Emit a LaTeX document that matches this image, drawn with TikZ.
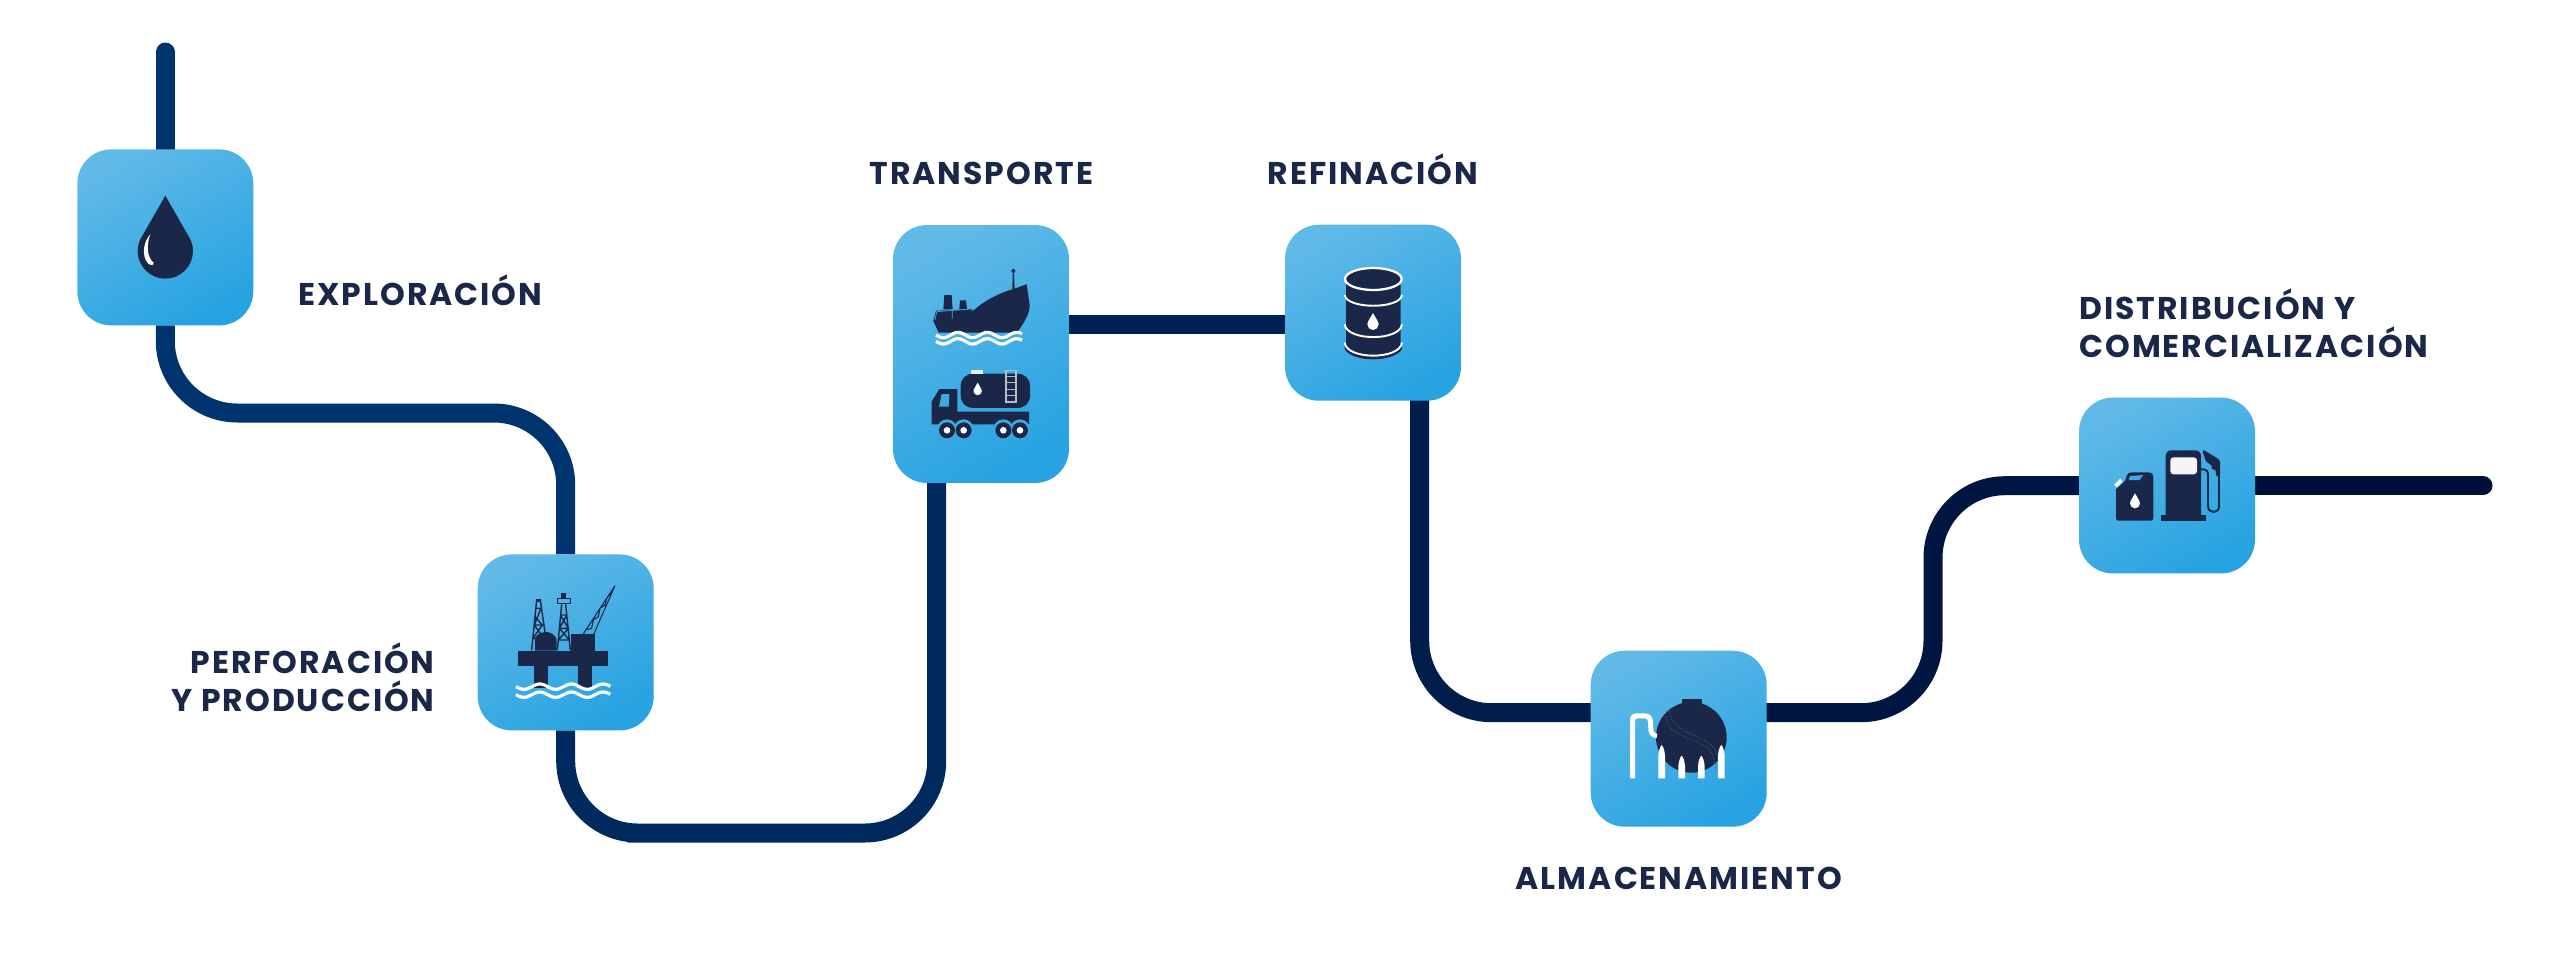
\documentclass[tikz,border=0pt]{standalone}
\usepackage{fontspec}
\setmainfont{Poppins}[LetterSpace=6.3]
\usetikzlibrary{backgrounds}
\definecolor{navy}{HTML}{1B2748}
\definecolor{boxlight}{HTML}{60B9E7}
\definecolor{boxdark}{HTML}{27A3E1}
\definecolor{boxmid}{HTML}{3FAAE2}
\definecolor{pipeA}{HTML}{00346E}
\definecolor{pipeB}{HTML}{002A5E}
\definecolor{pipeC}{HTML}{002253}
\definecolor{pipeD}{HTML}{001D4C}
\definecolor{pipeE}{HTML}{001642}
\definecolor{pipeF}{HTML}{000F38}
\tikzset{
  stage/.style={rectangle,inner sep=0pt,outer sep=0pt,minimum width=3.52cm,minimum height=3.52cm,
    rounded corners=0.68cm,top color=boxlight,bottom color=boxdark,shading angle=30},
  pipeline/.style={line width=0.38cm,rounded corners=1.44cm},
  lbl/.style={inner sep=0pt,font=\fontsize{17.9}{21.6}\selectfont\bfseries,text=navy},
  zoomframe/.style={x=0.0066667cm,y=-0.0066667cm},
  waveline/.style={draw=white,line width=1.8pt,line cap=butt},
  drop/.pic={
    \fill (0,-2) -- (-.86,-.5) .. controls (-.95,-.35) and (-1,-.18) .. (-1,0)
      .. controls (-1,.55) and (-.55,1) .. (0,1) .. controls (.55,1) and (1,.55) .. (1,0)
      .. controls (1,-.18) and (.95,-.35) .. (.86,-.5) -- cycle;
  }
}
\newcommand{\wavepair}[5]{%
  \draw[waveline] plot[domain=#1:#2,samples=70] (\x,{#3+8*sin(360/#5*(\x-#1))});
  \draw[waveline] plot[domain=#1:#2,samples=70] (\x,{#4+8*sin(360/#5*(\x-#1))});
}
\begin{document}
\begin{tikzpicture}[x=0.02cm,y=-0.02cm]
\useasboundingbox (0,0) rectangle (2560,961);
% stages
\node[stage] (b1) at (165.3,237.4) {};
\node[stage] (b2) at (565.7,642.4) {};
\node[stage,minimum height=5.16cm] (b3) at (981,354) {};
\node[stage] (b4) at (1373,312.7) {};
\node[stage] (b5) at (1678.7,738.7) {};
\node[stage] (b6) at (2167,485.5) {};
% connector ends and bends
\coordinate (top) at (165.3,52);
\coordinate (bend1) at (400,413);
\coordinate (bend2) at (700,833);
\coordinate (b3s) at (936.7,482);
\coordinate (b3e) at (1069,324.7);
\coordinate (b4w) at (1285,324.7);
\coordinate (b4s) at (1419.7,400);
\coordinate (b5w) at (1591,712.7);
\coordinate (b5e) at (1766,712.7);
\coordinate (c1) at (1933,712.7);
\coordinate (c2) at (1933,485.7);
\coordinate (b6w) at (2080,485.7);
\coordinate (b6e) at (2254,485.7);
\coordinate (tail) at (2483,485.7);
\begin{scope}[on background layer]
  \fill[white] (0,0) rectangle (2560,961);
  \draw[pipeline,pipeA,line cap=round] (top) -- (b1.north);
  \draw[pipeline,pipeA] (b1.south) |- (bend1) -| (b2.north);
  \draw[pipeline,pipeB] (b2.south) |- (bend2) -| (b3s);
  \draw[pipeline,pipeC] (b3e) -- (b4w);
  \draw[pipeline,pipeD] (b4s) |- (b5w);
  \draw[pipeline,pipeE] (b5e) -- (c1) -- (c2) -- (b6w);
  \draw[pipeline,pipeF,line cap=round] (b6e) -- (tail);
\end{scope}
% labels
\node[lbl,anchor=base west] (l1) at (298,305) {EXPLORACIÓN};
\node[lbl,anchor=base east,align=right] (l2) at (435,711) {PERFORACIÓN\\Y PRODUCCIÓN};
\node[lbl,anchor=base] (l3) at (981.5,184.3) {TRANSPORTE};
\node[lbl,anchor=base] (l4) at (1373,184.3) {REFINACIÓN};
\node[lbl,anchor=base] (l5) at (1678.8,889.5) {ALMACENAMIENTO};
\node[lbl,anchor=base west,align=left] (l6) at (2079,357.3) {DISTRIBUCIÓN Y\\COMERCIALIZACIÓN};
% icon 1: drop
\begin{scope}[shift={(60,130)},zoomframe]
  \pic[navy,scale=83] at (316,363) {drop};
  \fill[white] (271,313) .. controls (250,335) and (245,375) .. (262,398)
     .. controls (270,407) and (282,408) .. (281,398) .. controls (262,385) and (258,345) .. (271,313) -- cycle;
\end{scope}
% icon 2: platform
\begin{scope}[shift={(465,545)},zoomframe]
  \fill[navy] (160,317) rectangle (428,362);
  \fill[navy] (208,362) rectangle (250,430);
  \fill[navy] (338,362) rectangle (380,430);
  \fill[navy] (210,317) -- (210,280) .. controls (215,268) and (230,261) .. (243,261)
     .. controls (258,261) and (272,270) .. (275,285) -- (275,317) -- cycle;
  \fill[navy] (317,268) rectangle (390,317);
  \draw[navy,line width=0.8pt] (200,316) -- (215,165) -- (226,165) -- (240,262)
     (208,240) -- (232,240) (204,280) -- (236,280) (213,190) -- (228,190)
     (204,280) -- (232,240) -- (210,215) (236,280) -- (208,240) -- (228,190);
  \fill[navy] (214,162) rectangle (227,172);
  \draw[navy,line width=0.8pt] (277,316) -- (290,178) (302,178) -- (316,316)
     (283,250) -- (310,250) (280,285) -- (313,285) (286,210) -- (306,210)
     (280,285) -- (310,250) -- (286,210) (313,285) -- (283,250) -- (306,210);
  \draw[navy,line width=0.8pt] (278,160) rectangle (316,176);
  \fill[navy] (289,145) rectangle (303,160);
  \draw[navy,line width=0.6pt] (354,268) -- (450,122) -- (386,268)
     (362,255) -- (380,250) -- (385,225) -- (400,215) -- (405,190) -- (420,180) -- (425,160) -- (440,140);
  \wavepair{153}{436}{425}{449}{95}
\end{scope}
% icon 3: ship and truck
\begin{scope}[shift={(880,220)},zoomframe]
  \fill[navy] (160,303) -- (176,338) -- (410,338) .. controls (432,310) and (450,280) .. (449,255)
    -- (440,193) -- (400,207) .. controls (350,222) and (310,245) .. (285,268) -- (278,272)
    .. controls (250,285) and (215,296) .. (165,300) -- cycle;
  \fill[navy] (168,272) -- (278,268) -- (262,285) -- (217,298) -- (160,303) -- cycle;
  \fill[navy] (190,268) -- (193,225) -- (215,225) -- (218,268) -- cycle;
  \fill[navy] (238,268) -- (240,241) -- (258,241) -- (261,268) -- cycle;
  \draw[boxmid,line width=0.4pt] (170,275) -- (165,300) (170,275) -- (262,268) (217,270) -- (217,296);
  \fill[navy] (397,207) -- (398,160) -- (402,160) -- (404,207) -- cycle;
  \fill[navy] (400,153) circle (6);
  \wavepair{168}{426}{345}{364}{88}
  % truck
  \fill[navy] (282,461) -- (410,461) .. controls (435,461) and (450,475) .. (450,500)
    -- (450,525) .. controls (450,550) and (435,564) .. (410,564) -- (282,564)
    .. controls (257,564) and (242,550) .. (242,525) -- (242,500) .. controls (242,475) and (257,461) .. (282,461) -- cycle;
  \fill[white!85!boxlight] (272,451) rectangle (310,461);
  \draw[white!70!navy,line width=0.6pt] (378,452) rectangle (408,546)
    (378,470) -- (408,470) (378,488) -- (408,488) (378,508) -- (408,508) (378,527) -- (408,527);
  \pic[white,scale=12.5] at (293,513) {drop};
  \fill[navy] (155,613) -- (155,545) -- (178,507) -- (232,507) -- (232,575) -- (447,575) -- (447,613) -- cycle;
  \fill[boxmid] (185,522) -- (208,522) -- (206,560) -- (177,560) -- cycle;
  \foreach \cx in {201,251,370,420} {
    \fill[boxmid] (\cx,628) circle (30);
  }
  \foreach \cx in {201,251,370,420} {
    \fill[navy] (\cx,631) circle (24);
    \fill[white] (\cx,631) circle (10);
  }
\end{scope}
% icon 4: barrel
\begin{scope}[shift={(1275,220)},zoomframe]
  \fill[navy] (213,177) -- (377,177) -- (377,375) -- (382,380) .. controls (382,402) and (340,418) .. (295,418)
     .. controls (250,418) and (208,402) .. (208,380) -- (213,375) -- cycle;
  \filldraw[navy,draw=white,line width=1.3pt] (295,177) ellipse [x radius=85,y radius=33];
  \draw[white,line width=1.1pt] (209,225) .. controls (215,268) and (375,268) .. (381,225);
  \draw[white,line width=1.1pt] (209,313) .. controls (215,364) and (375,364) .. (381,313);
  \draw[white,line width=1.1pt] (209,368) .. controls (215,420) and (375,420) .. (381,368);
  \pic[white,scale=17] at (294,313) {drop};
\end{scope}
% icon 5: storage sphere
\begin{scope}[shift={(1580,640)},zoomframe]
  \fill[navy] (305,178) rectangle (365,200);
  \fill[navy] (334,292) circle (106);
  \draw[white!25!navy,line width=0.5pt,densely dotted] (258,212) .. controls (250,290) and (340,290) .. (385,325) .. controls (400,340) and (406,370) .. (408,395);
  \draw[white!25!navy,line width=0.5pt,densely dotted] (270,205) .. controls (262,270) and (350,280) .. (395,315) .. controls (410,330) and (416,360) .. (418,385);
  \fill[white] (150,415) -- (150,240) .. controls (150,227) and (158,220) .. (170,220)
     -- (195,220) .. controls (210,220) and (218,230) .. (219,245) -- (220,272)
     .. controls (222,279) and (226,281) .. (232,281) -- (230,294) .. controls (216,294) and (207,285) .. (205,270)
     -- (204,245) .. controls (203,238) and (200,235) .. (195,235) -- (172,235)
     .. controls (167,235) and (165,238) .. (165,245) -- (165,415) -- cycle;
  \foreach \lx/\ly in {245/315,305/347,364/347,424/315} {
    \fill[white] (\lx-10,415) -- (\lx-10,\ly+32) .. controls (\lx-9,\ly+15) and (\lx-4,\ly+4) .. (\lx,\ly)
      .. controls (\lx+4,\ly+4) and (\lx+9,\ly+15) .. (\lx+10,\ly+32) -- (\lx+10,415) -- cycle;
  }
\end{scope}
% icon 6: fuel can and pump
\begin{scope}[shift={(2070,390)},zoomframe]
  \fill[navy] (146,392) .. controls (141,392) and (138,389) .. (138,384) -- (138,298) -- (166,272)
    -- (170,257) .. controls (172,250) and (178,247) .. (185,247) -- (236,247)
    .. controls (245,247) and (250,252) .. (250,260) -- (250,384) .. controls (250,389) and (247,392) .. (242,392) -- cycle;
  \fill[boxmid] (176,270) -- (180,258) -- (220,255) -- (208,270) -- cycle;
  \fill[white!90!boxlight] (132,284) -- (151,266) -- (158,274) -- (140,292) -- cycle;
  \pic[white,scale=15] at (195,340) {drop};
  \fill[navy] (287,375) -- (287,198) .. controls (287,188) and (294,181) .. (304,181)
    -- (376,181) .. controls (386,181) and (393,188) .. (393,198) -- (393,375) -- cycle;
  \fill[navy] (274,375) rectangle (408,393);
  \fill[white!96!black] (311,202) -- (371,202) .. controls (377,202) and (381,206) .. (381,212)
    -- (381,243) .. controls (381,249) and (377,253) .. (371,253) -- (311,253)
    .. controls (305,253) and (301,249) .. (301,243) -- (301,212) .. controls (301,206) and (305,202) .. (311,202) -- cycle;
  \draw[navy,line width=1.1pt] (393,238) -- (402,238) .. controls (410,238) and (414,245) .. (414,255)
    -- (414,348) .. controls (414,360) and (422,366) .. (431,366) .. controls (440,366) and (447,360) .. (447,348) -- (447,240);
  \fill[navy] (398,186) -- (401,180) -- (442,205) .. controls (448,208) and (450,212) .. (450,218)
    -- (450,252) -- (440,260) -- (436,240) -- (426,237) -- (424,226) -- (408,214) -- cycle;
\end{scope}
\end{tikzpicture}
\end{document}
